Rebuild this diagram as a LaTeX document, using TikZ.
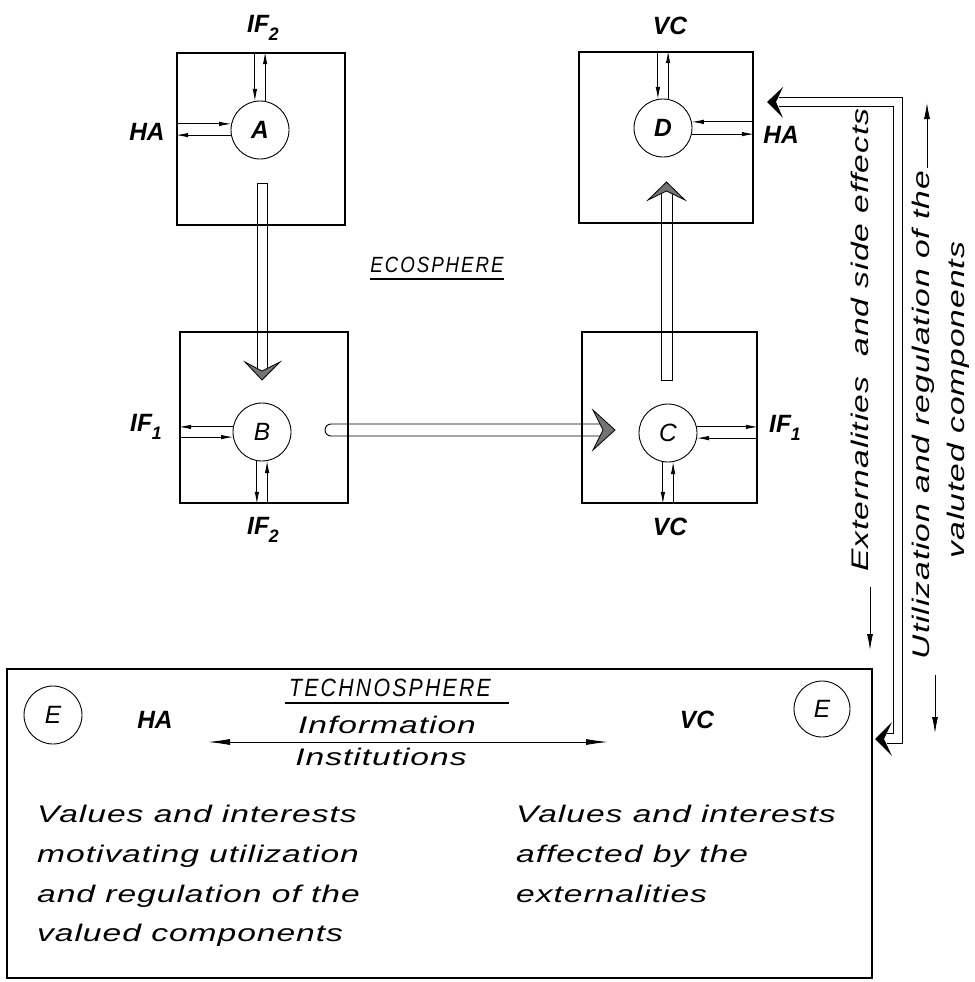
\documentclass[tikz,border=0pt]{standalone}
\usepackage{fontspec}
\setmainfont{Liberation Sans}
\newfontfamily\bodyf{Liberation Sans}[FakeStretch=1.4,LetterSpace=4]
\newfontfamily\capf{Liberation Sans}[FakeStretch=0.85,LetterSpace=9]
\newfontfamily\labf{Liberation Sans}[FakeStretch=0.98]
\usetikzlibrary{arrows.meta}
\newcommand\lsub[1]{\raisebox{-0.3em}{\fontsize{18}{18}\selectfont #1}}
\begin{document}
\begin{tikzpicture}[x=1pt,y=-1pt,
  box/.style={draw,line width=1.6pt,inner sep=0,minimum width=#1},
  ball/.style={circle,draw,line width=0.9pt,minimum size=58pt,inner sep=0,
    font=\labf\itshape\fontsize{25}{27}\selectfont},
  lab/.style={inner sep=0,font=\labf\bfseries\itshape\fontsize{25}{27}\selectfont},
  body/.style={inner sep=0,font=\bodyf\itshape\fontsize{24}{28}\selectfont},
  caps/.style={inner sep=0,font=\capf\itshape\fontsize{#1}{#1}\selectfont},
  vt/.style={inner sep=0,rotate=90,font=\bodyf\itshape\fontsize{24}{28}\selectfont},
  sa/.style={line width=0.8pt,-{Latex[length=12pt,width=4.5pt]}},
  la/.style={line width=0.8pt,-{Latex[length=16pt,width=6pt]}},
  hline/.style={line width=0.9pt},
  hhead/.style={draw=black,line width=0.8pt,fill=black!55,line join=miter},
]
\useasboundingbox (0,0) rectangle (974,982);

% ---------- boxes of the ecosphere ----------
\node[box=168pt,minimum height=172pt] (Abox) at (261,139) {};
\node[box=168pt,minimum height=171pt] (Bbox) at (264,417.5) {};
\node[box=175pt,minimum height=171pt] (Cbox) at (669.5,417.5) {};
\node[box=174pt,minimum height=171pt] (Dbox) at (666,137.5) {};

% ---------- circles ----------
\node[ball] (A) at (260,130) {\bfseries A};
\node[ball] (B) at (262,432) {B};
\node[ball] (C) at (668,433) {C};
\node[ball] (D) at (663,128) {\bfseries D};

% ---------- small arrows, A ----------
\draw[sa] (Abox.north -| A.100) -- (A.100);
\draw[sa] (A.80) -- (Abox.north -| A.80);
\draw[sa] (Abox.west |- A.168) -- (A.168);
\draw[sa] (A.190) -- (Abox.west |- A.190);
% ---------- small arrows, B ----------
\draw[sa] (B.170) -- (Bbox.west |- B.170);
\draw[sa] (Bbox.west |- B.190) -- (B.190);
\draw[sa] (B.260) -- (Bbox.south -| B.260);
\draw[sa] (Bbox.south -| B.280) -- (B.280);
% ---------- small arrows, C ----------
\draw[sa] (C.12) -- (Cbox.east |- C.12);
\draw[sa] (Cbox.east |- C.350) -- (C.350);
\draw[sa] (C.260) -- (Cbox.south -| C.260);
\draw[sa] (Cbox.south -| C.280) -- (C.280);
% ---------- small arrows, D ----------
\draw[sa] (Dbox.north -| D.100) -- (D.100);
\draw[sa] (D.80) -- (Dbox.north -| D.80);
\draw[sa] (Dbox.east |- D.12) -- (D.12);
\draw[sa] (D.348) -- (Dbox.east |- D.348);

% ---------- labels ----------
\node[lab] (lA1) at (263,28) {IF\lsub{2}};
\node[lab] (lA2) at (147,132) {HA};
\node[lab] (lB1) at (146,427) {IF\lsub{1}};
\node[lab] (lB2) at (263,530) {IF\lsub{2}};
\node[lab] (lC1) at (785,428) {IF\lsub{1}};
\node[lab] (lC2) at (670,527) {VC};
\node[lab] (lD1) at (670,26) {VC};
\node[lab] (lD2) at (781,135) {HA};

% ---------- hollow flow arrows ----------
% A -> B
\draw[hline] (257,368) -- (257,183) -- (267,183) -- (267,368);
\filldraw[hhead] (245,362) -- (262,380) -- (280,362) -- (262,371) -- cycle;
% B -> C
\draw[hline] (600,424) -- (331,424) arc[start angle=90,end angle=270,radius=6pt] -- (600,436);
\filldraw[hhead] (593,410) -- (615,430) -- (593,450) -- (603,430) -- cycle;
% C -> D
\draw[hline] (661,194) -- (661,380) -- (672,380) -- (672,194);
\filldraw[hhead] (648,200) -- (666.5,182) -- (685,200) -- (666.5,191) -- cycle;

% ---------- ECOSPHERE ----------
\node[caps=22] (eco) at (437,265) {ECOSPHERE};
\draw[line width=1.1pt] ([yshift=-6pt]eco.south west) -- ([yshift=-6pt]eco.south east);

% ---------- technosphere box ----------
\node[box=865pt,minimum height=309pt] (Tbox) at (439.5,823.5) {};
\node[ball,minimum size=58pt] (E1) at (53,715) {E};
\node[ball,minimum size=56pt] (E2) at (822,709) {E};
\node[lab] (lE1) at (155,720) {HA};
\node[lab] (lE2) at (697,720) {VC};
\node[caps=25] (tech) at (390,688) {TECHNOSPHERE};
\draw[line width=1.4pt] ([xshift=-4pt,yshift=-6pt]tech.south west) -- ([xshift=18pt,yshift=-6pt]tech.south east);
\node[body] (info) at (387,725) {Information};
\node[body] (inst) at (381,757) {Institutions};
\coordinate (tl) at (208,742);
\coordinate (tr) at (608,742);
\draw[line width=0.9pt,{Latex[length=22pt,width=6pt]}-{Latex[length=22pt,width=6pt]}] (tl) -- (tr);

\node[body,anchor=base west] (p1) at (37,822) {Values and interests};
\node[body,anchor=base west] (p2) at (37,862) {motivating utilization};
\node[body,anchor=base west] (p3) at (37,902) {and regulation of the};
\node[body,anchor=base west] (p4) at (37,941) {valued components};
\node[body,anchor=base west] (q1) at (516,822) {Values and interests};
\node[body,anchor=base west] (q2) at (516,862) {affected by the};
\node[body,anchor=base west] (q3) at (516,902) {externalities};

% ---------- externalities connector (double line) ----------
\coordinate (extD) at (767,102);
\coordinate (extT) at (875,739);
\draw[hline] (779,97) -- (902,97) -- (902,743) -- (887,743);
\draw[hline] (779,106) -- (893,106) -- (893,733) -- (887,733);
\fill[black] (783,87) -- (extD) -- (783,118) -- (776,102) -- cycle;
\fill[black] (892,722) -- (extT) -- (892,756) -- (884,739) -- cycle;

% ---------- vertical texts ----------
\node[vt] (ext) at (860,340) {Externalities\ \ and side effects};
\draw[la] (870,587) -- (870,650);
\node[vt] (util) at (923,415) {Utilization and regulation of the};
\draw[la] (927,168) -- (927,103);
\draw[la] (935,675) -- (935,733);
\node[vt] (valc) at (958,400) {valuted components};
\end{tikzpicture}
\end{document}
